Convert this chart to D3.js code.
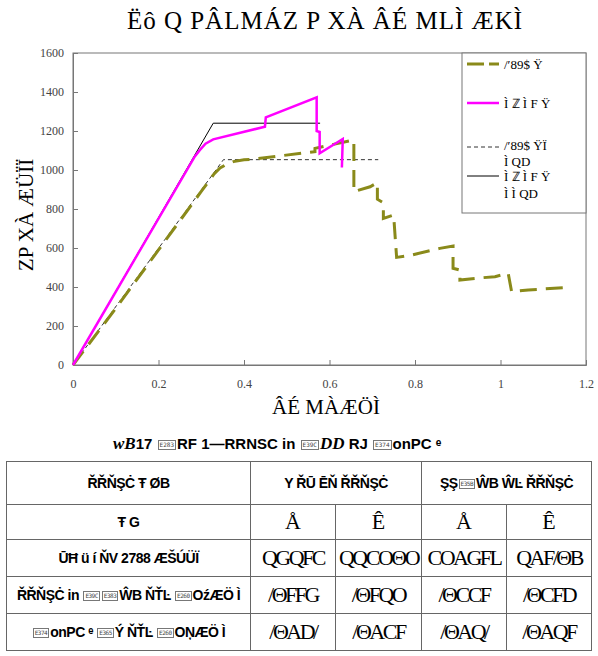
<!doctype html>
<html>
<head>
<meta charset="UTF-8">
<title>chart</title>
<script src="https://cdn.jsdelivr.net/npm/d3@7"></script>
<style>
  body { margin: 0; background: #fff; font-family: "Liberation Serif", serif; }
  #chart { position: absolute; left: 0; top: 0; }
  #caption { position: absolute; left: 113px; top: 434px; font: bold 15px "Liberation Sans", sans-serif; white-space: nowrap; }
  #caption .it { font-family: "Liberation Serif", serif; font-style: italic; font-size: 17px; }
  .hx { display: inline-block; font: 6px "DejaVu Sans Mono", monospace; border: 1px solid #777; color: #444; padding: 0 1px; line-height: 8px; vertical-align: middle; margin: 0 1px; }
  #tbl { position: absolute; left: 6px; top: 461px; width: 585px; border-collapse: collapse; table-layout: fixed; }
  #tbl td { border: 1px solid #666; text-align: center; padding: 0; white-space: nowrap; overflow: hidden; }
  .hd { font: bold 14px "Liberation Sans Narrow", "Liberation Sans", sans-serif; letter-spacing: -0.5px; }
  .big { font: 22px "Liberation Serif", serif; }
  .val { font: 22px "Liberation Serif", serif; letter-spacing: -2.5px; }
</style>
</head>
<body>
<svg id="chart" width="598" height="430"></svg>
<div id="caption"></div>
<table id="tbl"></table>
<script>
  // load-displacement curves, [displacement, load]
  const testA = [[0, 0], [0.10, 290], [0.20, 590], [0.30, 890], [0.330, 980], [0.344, 1010], [0.36, 1030],
    [0.375, 1043], [0.40, 1052], [0.422, 1056], [0.566, 1094], [0.566, 1111], [0.657, 1154], [0.657, 889],
    [0.695, 914], [0.712, 935], [0.712, 850], [0.726, 832], [0.726, 752], [0.750, 769], [0.757, 552],
    [0.792, 564], [0.858, 598], [0.889, 610], [0.889, 496], [0.905, 487], [0.905, 436], [0.944, 445],
    [0.987, 453], [1.018, 470], [1.026, 376], [1.065, 385], [1.147, 396]];
  const testB = [[0, 0], [0.285, 1070], [0.297, 1103], [0.310, 1135], [0.328, 1157], [0.449, 1222],
    [0.451, 1270], [0.570, 1373], [0.570, 1200], [0.577, 1195], [0.577, 1086], [0.631, 1159], [0.629, 1013]];
  const modelA = [[0, 0], [0.352, 1053], [0.714, 1053]];
  const modelB = [[0, 0], [0.328, 1240], [0.578, 1240]];

  const xTicks = [0, 0.2, 0.4, 0.6, 0.8, 1, 1.2];
  const yTicks = [0, 200, 400, 600, 800, 1000, 1200, 1400, 1600];

  const chartTitle = "Ëô Q PÂLMÁZ P XÀ  ÂÉ  MLÌ ÆKÌ";
  const xTitle = "ÂÉ  MÀÆÖÌ";
  const yTitle = "ZP XÀ  ÆÜÏÏ";
  const legendLabels = [["/′89$  Ÿ"], ["Ì ℤ Ì F  Ÿ"], ["/′89$  ŸÏ", "Ì QD"], ["Ì ℤ Ì F  Ÿ", "Ì Ì QD"]];

  const captionText = "<i class='it'>wB</i>17 {E283}RF  1—RRNSC in {E39C}<i class='it'>DD</i> RJ {E374}onPC ᵉ";
  const headRow1 = ["ŘŘŇŞĊ Ŧ ØB", "Y ŘŪ ĒŇ ŘŘŇŞĊ", "ŞŞ{E35B}ŴB ŴĿ ŘŘŇŞĊ"];
  const headRow2 = ["Ŧ G", "Å", "Ê", "Å", "Ê"];
  const rowLabels = ["ŪĦ ü í ŇV 2788 ÆŠÚÜÏ", "ŘŘŇŞĊ in {E39C}{E383}ŴB ŇŤĿ {E260}OźÆÖ Ì", "{E374}onPC ᵉ {E365}Ý ŇŤĿ {E260}OŅÆÖ Ì"];
  const rowValues = [["QGQFC", "QQCOΘO", "COAGFL", "QAF/ΘB"],
                     ["/ΘFFG", "/ΘFQO", "/ΘCCF", "/ΘCFD"],
                     ["/ΘAD/", "/ΘACF", "/ΘAQ/", "/ΘAQF"]];

  const hex = s => s.replace(/\{(\w+)\}/g, "<span class='hx'>$1</span>");

  const svg = d3.select("#chart");
  const x = d3.scaleLinear().domain([0, 1.2]).range([73, 586]);
  const y = d3.scaleLinear().domain([0, 1600]).range([365, 53]);

  // frame
  svg.append("rect").attr("x", 73).attr("y", 53).attr("width", 513).attr("height", 312)
    .attr("fill", "none").attr("stroke", "#777");

  const xAxis = svg.append("g").attr("transform", "translate(0,365)")
    .call(d3.axisBottom(x).tickValues(xTicks).tickSize(-5).tickPadding(14).tickFormat(d3.format("")));
  const yAxis = svg.append("g").attr("transform", "translate(73,0)")
    .call(d3.axisLeft(y).tickValues(yTicks).tickSize(-5).tickPadding(9).tickFormat(d3.format("")));
  [xAxis, yAxis].forEach(g => {
    g.select(".domain").attr("stroke", "#777");
    g.selectAll(".tick line").attr("stroke", "#777");
    g.selectAll("text").attr("font-family", "Liberation Serif").attr("font-size", 12).attr("fill", "#444");
  });

  const line = d3.line().x(d => x(d[0])).y(d => y(d[1]));
  const series = [
    { data: modelA, color: "#333", width: 1, dash: "4,3" },
    { data: modelB, color: "#000", width: 1, dash: null },
    { data: testA, color: "#8a8a1a", width: 3, dash: "17,9" },
    { data: testB, color: "#ff00ff", width: 2.5, dash: null }
  ];
  series.forEach(s => {
    svg.append("path").attr("d", line(s.data)).attr("fill", "none")
      .attr("stroke", s.color).attr("stroke-width", s.width)
      .attr("stroke-dasharray", s.dash).attr("stroke-linejoin", "miter");
  });

  // titles
  svg.append("text").attr("x", 325).attr("y", 29).attr("text-anchor", "middle")
    .attr("font-family", "Liberation Serif").attr("font-size", 25)
    .attr("letter-spacing", 1).text(chartTitle);
  svg.append("text").attr("x", 326).attr("y", 414).attr("text-anchor", "middle")
    .attr("font-family", "Liberation Serif").attr("font-size", 21).text(xTitle);
  svg.append("text").attr("transform", "translate(33,215) rotate(-90)").attr("text-anchor", "middle")
    .attr("font-family", "Liberation Serif").attr("font-size", 21).text(yTitle);

  // legend
  const lg = svg.append("g");
  lg.append("rect").attr("x", 462).attr("y", 53).attr("width", 124).attr("height", 160)
    .attr("fill", "#fff").attr("stroke", "#777");
  const legendY = [64, 103, 147, 176];
  const legendTextY = [[69], [108], [150, 166], [181, 198]];
  const legendOrder = [2, 3, 0, 1];
  legendOrder.forEach((si, i) => {
    const s = series[si];
    lg.append("line").attr("x1", 467).attr("x2", 499).attr("y1", legendY[i]).attr("y2", legendY[i])
      .attr("stroke", s.color).attr("stroke-width", s.width).attr("stroke-dasharray", s.dash ? (si === 2 ? "17,5" : "4,3") : null);
    legendLabels[i].forEach((t, k) => {
      lg.append("text").attr("x", 504).attr("y", legendTextY[i][k])
        .attr("font-family", "Liberation Serif").attr("font-size", 13).text(t);
    });
  });

  // caption and table
  d3.select("#caption").html(hex(captionText));
  const tbl = d3.select("#tbl");
  const cg = tbl.append("colgroup");
  [244, 85, 86, 85, 85].forEach(w => cg.append("col").style("width", w + "px"));
  const r1 = tbl.append("tr").style("height", "43px");
  r1.append("td").attr("class", "hd").html(hex(headRow1[0]));
  r1.append("td").attr("class", "hd").attr("colspan", 2).html(hex(headRow1[1]));
  r1.append("td").attr("class", "hd").attr("colspan", 2).html(hex(headRow1[2]));
  const r2 = tbl.append("tr").style("height", "35px");
  headRow2.forEach((t, i) => r2.append("td").attr("class", i === 0 ? "hd" : "big").text(t));
  rowLabels.forEach((lab, i) => {
    const r = tbl.append("tr").style("height", "37px");
    r.append("td").attr("class", "hd").html(hex(lab));
    rowValues[i].forEach(v => r.append("td").attr("class", "val").text(v));
  });
</script>
</body>
</html>
